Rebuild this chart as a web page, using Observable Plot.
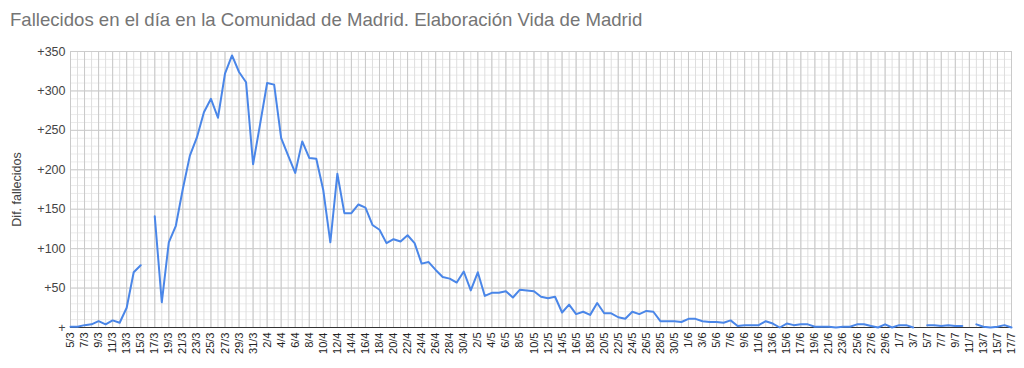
<!DOCTYPE html>
<html>
<head>
<meta charset="utf-8">
<script src="https://cdn.jsdelivr.net/npm/d3@7"></script>
<script src="https://cdn.jsdelivr.net/npm/@observablehq/plot@0.6"></script>
<style>
  html, body { margin: 0; padding: 0; background: #fff; }
  #title { height: 40px; box-sizing: border-box; padding: 8px 0 0 10px; font-family: "Liberation Sans", Arial, sans-serif; font-size: 18.6px; line-height: 23px; color: #757575; white-space: nowrap; }
  #chart svg { display: block; }
</style>
</head>
<body>
<div id="title">Fallecidos en el día en la Comunidad de Madrid. Elaboración Vida de Madrid</div>
<div id="chart"></div>
<script>
// First day of the series (5 March 2020); one value per day, null = no data
const startDay = "2020-03-05";
const fallecidos = [
  1, 1, 3, 4, 8, 4, 9, 6, 25, 70, 79, null, 141, 32, 108, 129, 176, 218, 241, 273,
  290, 266, 322, 345, 324, 311, 207, 258, 310, 308, 240, 218, 196, 236, 215, 214, 174, 108, 195, 145,
  145, 156, 152, 130, 124, 107, 112, 109, 117, 107, 81, 83, 73, 64, 62, 57, 71, 47, 70, 40,
  44, 44, 46, 38, 48, 47, 46, 39, 37, 39, 19, 29, 17, 20, 16, 31, 18, 18, 13, 11,
  20, 17, 21, 20, 8, 8, 8, 7, 11, 11, 8, 7, 7, 6, 9, 2, 3, 3, 3, 8,
  5, 0, 5, 3, 4, 4, 1, 1, 1, 0, 1, 1, 4, 4, 2, 0, 4, 0, 3, 3,
  0, null, 3, 3, 2, 3, 2, 2, null, 4, 1, 0, 1, 3, 0
];
const yTicks = [0, 50, 100, 150, 200, 250, 300, 350];
const yMinorGrid = d3.range(0, 351, 10);
const xTickEvery = 2;
const yTitle = "Dif. fallecidos";

const start = new Date(startDay + "T00:00:00Z");
const days = fallecidos.map((_, i) => d3.utcDay.offset(start, i));
const data = fallecidos.map((v, i) => ({date: days[i], value: v == null ? NaN : v}));
const tickDays = days.filter((_, i) => i % xTickEvery === 0);
const fmtDay = d3.utcFormat("%-d/%-m");

const chart = Plot.plot({
  width: 1024,
  height: 328,
  marginLeft: 70,
  marginRight: 13,
  marginTop: 11,
  marginBottom: 41,
  style: {fontFamily: "'Liberation Sans', Arial, sans-serif", background: "#fff", color: "#222"},
  x: {type: "utc", domain: [days[0], days[days.length - 1]], axis: null},
  y: {domain: [0, 350], axis: null},
  marks: [
    Plot.ruleY(yMinorGrid, {stroke: "#ebebeb"}),
    Plot.ruleX(days, {stroke: "#dedede"}),
    Plot.ruleX(tickDays, {stroke: "#cacaca"}),
    Plot.ruleY(yTicks, {stroke: "#cccccc"}),
    Plot.ruleY([0], {stroke: "#333"}),
    Plot.line(data, {x: "date", y: "value", stroke: "#4a86e8", strokeWidth: 2, strokeLinejoin: "round"}),
    Plot.axisX(tickDays, {
      tickRotate: -90, tickSize: 0, tickPadding: 5, fontSize: 11, fill: "#222",
      tickFormat: fmtDay, label: null
    }),
    Plot.axisY(yTicks, {
      tickSize: 0, tickPadding: 5, fontSize: 12.5, fill: "#444",
      tickFormat: d => d === 0 ? "+" : "+" + d,
      label: yTitle, labelAnchor: "center", labelArrow: "none", labelOffset: 58
    })
  ]
});
document.getElementById("chart").appendChild(chart);
</script>
</body>
</html>
